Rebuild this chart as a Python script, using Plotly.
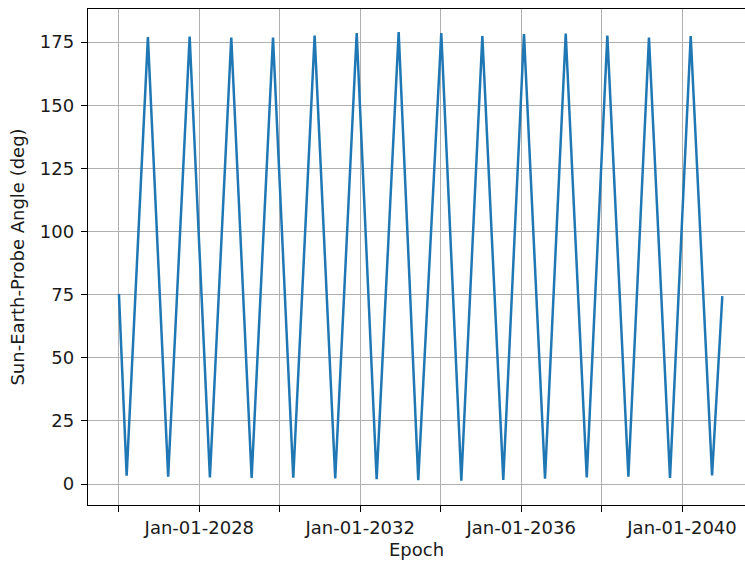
import plotly.graph_objects as go

# Sun-Earth-Probe angle time history: turning points of the angle profile
epochs = [
    "2026-01-01", "2026-03-12", "2026-09-21", "2027-03-24", "2027-10-05",
    "2028-04-06", "2028-10-17", "2029-04-20", "2029-10-31", "2030-05-03",
    "2030-11-13", "2031-05-19", "2031-11-30", "2032-05-29", "2032-12-15",
    "2033-06-11", "2034-01-06", "2034-07-07", "2035-01-14", "2035-07-23",
    "2036-01-27", "2036-08-05", "2037-02-09", "2037-08-19", "2038-02-22",
    "2038-09-01", "2039-03-07", "2039-09-14", "2040-03-20", "2040-09-30",
    "2041-01-01",
]
sep_angle_deg = [
    75.3, 3.3, 177.0, 2.9, 177.2,
    2.6, 176.8, 2.4, 176.8, 2.5,
    177.6, 2.2, 178.6, 1.9, 179.0,
    1.5, 178.6, 1.3, 177.4, 1.6,
    178.2, 2.1, 178.4, 2.6, 177.6,
    2.9, 176.8, 2.4, 177.4, 3.4,
    74.4,
]

tick_dates = ["2026-01-01", "2028-01-01", "2030-01-01", "2032-01-01",
              "2034-01-01", "2036-01-01", "2038-01-01", "2040-01-01"]
tick_labels = ["", "Jan-01-2028", "", "Jan-01-2032",
               "", "Jan-01-2036", "", "Jan-01-2040"]
y_ticks = [0, 25, 50, 75, 100, 125, 150, 175]

font = dict(family="DejaVu Sans", size=18, color="#1a1a1a")

fig = go.Figure()
fig.add_trace(go.Scatter(
    x=epochs, y=sep_angle_deg, mode="lines",
    line=dict(color="#1f77b4", width=2.5),
    showlegend=False,
))

fig.update_layout(
    width=745, height=563,
    margin=dict(l=88, r=0, t=9, b=58),
    paper_bgcolor="white", plot_bgcolor="white",
    font=font,
    xaxis=dict(
        type="date",
        range=["2025-03-26", "2041-07-26"],
        tickmode="array", tickvals=tick_dates, ticktext=tick_labels,
        ticks="outside", ticklen=6, tickwidth=1.3, tickcolor="black",
        showgrid=True, gridcolor="#b0b0b0", gridwidth=1.4,
        showline=True, linecolor="black", linewidth=1.4, mirror=True,
        zeroline=False,
        title=dict(text="Epoch", font=font, standoff=6),
        tickfont=font,
    ),
    yaxis=dict(
        range=[-8.3, 188.1],
        tickmode="array", tickvals=y_ticks,
        ticks="outside", ticklen=6, tickwidth=1.3, tickcolor="black",
        ticklabelstandoff=3,
        showgrid=True, gridcolor="#b0b0b0", gridwidth=1.4,
        showline=True, linecolor="black", linewidth=1.4,
        zeroline=False,
        title=dict(text="Sun-Earth-Probe Angle (deg)", font=font, standoff=10),
        tickfont=font,
    ),
)

fig.write_html("out.html")
